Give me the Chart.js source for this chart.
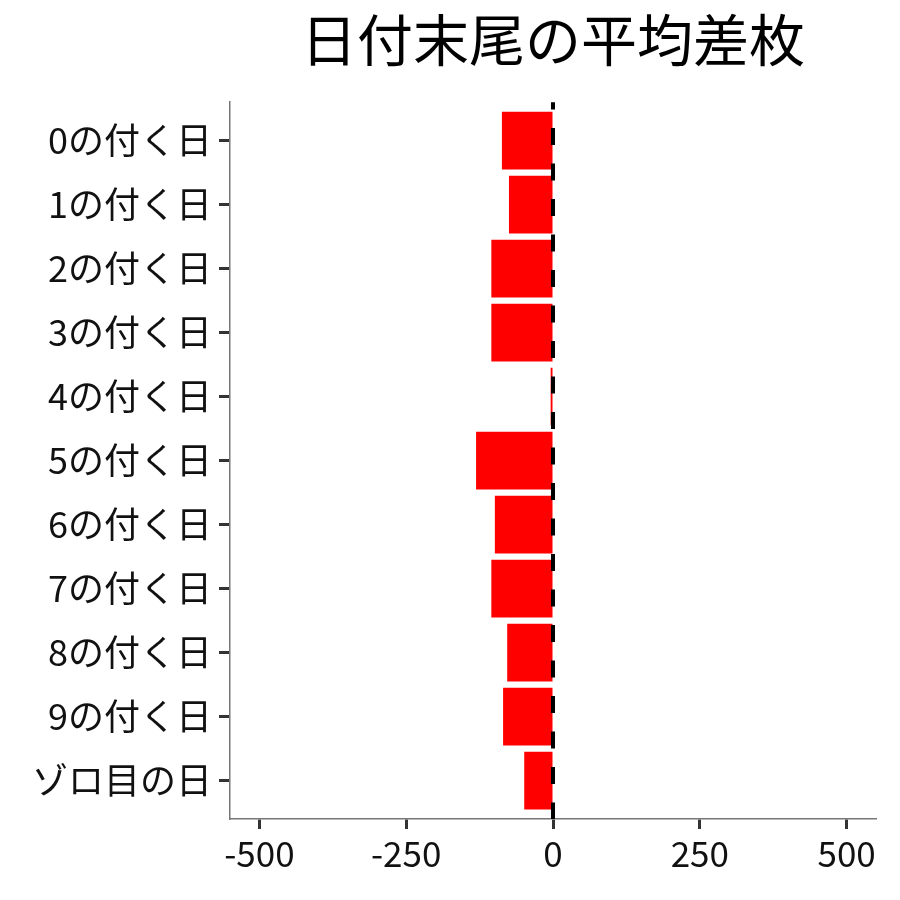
<!DOCTYPE html>
<html>
<head>
<meta charset="utf-8">
<script src="https://cdn.jsdelivr.net/npm/chart.js@4"></script>
<style>
  html, body { margin: 0; padding: 0; background: #fff; }
  #wrap { width: 900px; height: 900px; }
</style>
</head>
<body>
<div id="wrap"><canvas id="chartCanvas" width="900" height="900"></canvas></div>
<script>
// categories (top to bottom)
const days = ['0の付く日', '1の付く日', '2の付く日', '3の付く日', '4の付く日',
              '5の付く日', '6の付く日', '7の付く日', '8の付く日', '9の付く日', 'ゾロ目の日'];
// average difference per category
const avgDiff = [-87, -75, -105, -105, -4, -131, -99, -105, -78, -85, -49];
const xTicks = [-500, -250, 0, 250, 500];
const chartTitle = '日付末尾の平均差枚';

const jpFont = '"Noto Sans CJK JP", "Noto Sans", sans-serif';

// dashed line at x = 0, drawn over the bars
const zeroLine = {
    id: 'zeroLine',
    afterDatasetsDraw(chart) {
        const c = chart.ctx;
        const area = chart.chartArea;
        const x0 = chart.scales.x.getPixelForValue(0);
        c.save();
        c.strokeStyle = '#000';
        c.lineWidth = 4;
        c.setLineDash([17, 18.5]);
        c.lineDashOffset = 9.8;
        c.beginPath();
        c.moveTo(x0, area.top);
        c.lineTo(x0, area.bottom);
        c.stroke();
        c.restore();
    }
};

const ctx = document.getElementById('chartCanvas');

new Chart(ctx, {
    type: 'bar',
    data: {
        datasets: [{
            data: avgDiff.map((v, i) => ({ x: v, y: i })),
            backgroundColor: '#ff0000',
            borderWidth: 0,
            barPercentage: 0.9,
            categoryPercentage: 1.0
        }]
    },
    plugins: [zeroLine],
    options: {
        indexAxis: 'y',
        responsive: false,
        animation: false,
        layout: { padding: { top: 6, right: 24, bottom: 0, left: 0 } },
        plugins: {
            legend: { display: false },
            tooltip: { enabled: false },
            title: {
                display: true,
                text: chartTitle,
                fullSize: false,
                color: '#000',
                font: { family: jpFont, size: 56, weight: 'normal' },
                padding: { top: 0, bottom: 29 }
            }
        },
        scales: {
            x: {
                type: 'linear',
                min: -550,
                max: 550,
                afterBuildTicks: (s) => { s.ticks = xTicks.map(v => ({ value: v })); },
                afterFit: (s) => { s.height = 81; },
                grid: {
                    drawOnChartArea: false,
                    drawTicks: true,
                    tickLength: 10,
                    tickColor: '#333',
                    tickWidth: 3
                },
                border: { color: '#777', width: 1.5 },
                ticks: {
                    color: '#111',
                    padding: 4,
                    maxRotation: 0,
                    font: { family: jpFont, size: 35 }
                }
            },
            y: {
                type: 'linear',
                min: -0.6,
                max: 10.6,
                reverse: true,
                offset: false,
                afterBuildTicks: (s) => { s.ticks = days.map((d, i) => ({ value: i })); },
                afterFit: (s) => { s.width = 230; },
                grid: {
                    offset: false,
                    drawOnChartArea: false,
                    drawTicks: true,
                    tickLength: 11,
                    tickColor: '#333',
                    tickWidth: 3
                },
                border: { color: '#777', width: 1.5 },
                ticks: {
                    color: '#111',
                    padding: 7,
                    autoSkip: false,
                    font: { family: jpFont, size: 36 },
                    callback: (v) => days[v]
                }
            }
        }
    }
});
</script>
</body>
</html>
